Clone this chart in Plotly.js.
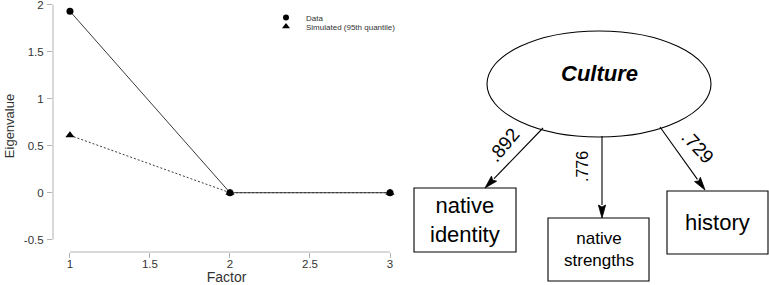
<!DOCTYPE html>
<html><head><meta charset="utf-8">
<script src="https://cdn.plot.ly/plotly-3.0.1.min.js"></script>
<style>html,body{margin:0;padding:0;background:#fff}#chart{width:769px;height:285px}</style>
</head><body><div id="chart"></div>
<script>
// ---- data ----
const factors = [1, 2, 3];
const dataEigen = [1.93, 0.0, 0.0];
const simEigen = [0.61, 0.0, 0.0];
const seriesNames = ["Data", "Simulated (95th quantile)"];
const xTicks = [1, 1.5, 2, 2.5, 3];
const yTicks = [-0.5, 0, 0.5, 1, 1.5, 2];
const latentName = "Culture";
const indicatorNames = ["native<br>identity", "native<br>strengths", "history"];
const loadings = [".892", ".776", ".729"];

// ---- geometry (pixels) ----
const W = 769, H = 285;
const PL = 53, PR = 400, PT = 0, PB = 252;   // plot area in pixels
const px = x => (x - PL) / (PR - PL);
const py = y => (PB - y) / (PB - PT);
const FONT = "Arial, 'Liberation Sans', Helvetica, sans-serif";
const AX = "#b3b3b3";

const ellipse = {x0: 487, x1: 711, y0: 31, y1: 137, labelY: 74};
const boxes = [
  {x0: 414, x1: 516, y0: 188, y1: 252, size: 22},
  {x0: 548, x1: 649, y0: 218, y1: 281, size: 17},
  {x0: 667, x1: 768, y0: 191, y1: 254, size: 22}
];
const arrows = [
  {from: [543, 128], to: [485, 188]},
  {from: [602, 136], to: [602, 218]},
  {from: [660, 127], to: [705, 190]}
];
const loadLabels = [
  {x: 503, y: 145, angle: -50, size: 19},
  {x: 582, y: 167, angle: -90, size: 16},
  {x: 697, y: 147, angle: 47, size: 19}
];

const shapes = [];
const annotations = [];

// axis lines (R-style detached axes)
shapes.push({type: "line", xref: "paper", yref: "y", x0: 0, x1: 0,
  y0: yTicks[0], y1: yTicks[yTicks.length - 1], line: {color: AX, width: 1}});
shapes.push({type: "line", xref: "x", yref: "paper", x0: xTicks[0], x1: xTicks[xTicks.length - 1],
  y0: 0, y1: 0, line: {color: AX, width: 1}});

// latent ellipse
shapes.push({type: "circle", xref: "paper", yref: "paper",
  x0: px(ellipse.x0), x1: px(ellipse.x1), y0: py(ellipse.y1), y1: py(ellipse.y0),
  line: {color: "#000", width: 1.1}, fillcolor: "rgba(0,0,0,0)"});
annotations.push({xref: "paper", yref: "paper", x: px((ellipse.x0 + ellipse.x1) / 2), y: py(ellipse.labelY),
  text: "<b><i>" + latentName + "</i></b>", showarrow: false,
  font: {family: FONT, size: 22, color: "#000"}, xanchor: "center", yanchor: "middle"});

// indicator boxes
boxes.forEach((b, i) => {
  shapes.push({type: "rect", xref: "paper", yref: "paper",
    x0: px(b.x0), x1: px(b.x1), y0: py(b.y1), y1: py(b.y0),
    line: {color: "#000", width: 1.1}, fillcolor: "rgba(0,0,0,0)"});
  annotations.push({xref: "paper", yref: "paper", x: px((b.x0 + b.x1) / 2), y: py((b.y0 + b.y1) / 2),
    text: indicatorNames[i], showarrow: false,
    font: {family: FONT, size: b.size, color: "#000"}, xanchor: "center", yanchor: "middle"});
});

// arrows
arrows.forEach(a => {
  const [x0, y0] = a.from, [x1, y1] = a.to;
  const dx = x1 - x0, dy = y1 - y0, L = Math.hypot(dx, dy);
  const ux = dx / L, uy = dy / L, nx = -uy, ny = ux;
  const hl = 13, hw = 3.6;
  const bx = x1 - ux * hl, by = y1 - uy * hl;
  shapes.push({type: "line", xref: "paper", yref: "paper",
    x0: px(x0), y0: py(y0), x1: px(bx), y1: py(by), line: {color: "#000", width: 1.1}});
  const p = (x, y) => px(x) + "," + py(y);
  shapes.push({type: "path", xref: "paper", yref: "paper",
    path: "M" + p(x1, y1) + " L" + p(bx + nx * hw, by + ny * hw) + " L" + p(x1 - ux * (hl - 2), y1 - uy * (hl - 2)) +
          " L" + p(bx - nx * hw, by - ny * hw) + " Z",
    fillcolor: "#000", line: {color: "#000", width: 0.8}});
});

// loading labels
loadLabels.forEach((l, i) => {
  annotations.push({xref: "paper", yref: "paper", x: px(l.x), y: py(l.y), text: loadings[i],
    showarrow: false, textangle: l.angle, font: {family: FONT, size: l.size, color: "#000"},
    xanchor: "center", yanchor: "middle"});
});

const traces = [
  {x: factors, y: dataEigen, mode: "lines+markers", showlegend: false, name: seriesNames[0],
   line: {color: "#3a3a3a", width: 1}, marker: {symbol: "circle", size: 7, color: "#000"}},
  {x: factors, y: simEigen, mode: "lines+markers", showlegend: false, name: seriesNames[1],
   line: {color: "#3a3a3a", width: 1, dash: "2px,2px"}, marker: {symbol: "triangle-up", size: 8, color: "#000"}},
  {x: [null], y: [null], mode: "markers", name: seriesNames[0], legend: "legend",
   marker: {symbol: "circle", size: 6, color: "#000"}},
  {x: [null], y: [null], mode: "markers", name: seriesNames[1], legend: "legend2",
   marker: {symbol: "triangle-up", size: 7, color: "#000"}}
];

const legendBase = {bgcolor: "rgba(0,0,0,0)", borderwidth: 0, font: {family: FONT, size: 8, color: "#333"},
  xanchor: "left", yanchor: "top", itemclick: false};

const layout = {
  width: W, height: H,
  margin: {l: PL, r: W - PR, t: PT, b: H - PB, pad: 0},
  paper_bgcolor: "#fff", plot_bgcolor: "#fff",
  showlegend: true,
  legend: Object.assign({}, legendBase, {x: px(266), y: py(3)}),
  legend2: Object.assign({}, legendBase, {x: px(266), y: py(12)}),
  xaxis: {range: [0.894, 3.0625], tickmode: "array", tickvals: xTicks,
    ticktext: xTicks.map(String), showgrid: false, zeroline: false, showline: false,
    ticks: "outside", ticklen: 5, tickcolor: AX, tickwidth: 1, ticklabelstandoff: -4,
    ticklabeloverflow: "allow",
    tickfont: {family: FONT, size: 11.5, color: "#333"},
    title: {text: "Factor", font: {family: FONT, size: 14, color: "#333"}, standoff: 5}},
  yaxis: {range: [-0.631, 2.05], tickmode: "array", tickvals: yTicks,
    ticktext: yTicks.map(String), showgrid: false, zeroline: false, showline: false,
    ticks: "outside", ticklen: 5, tickcolor: AX, tickwidth: 1, ticklabelstandoff: 1,
    ticklabeloverflow: "allow",
    tickfont: {family: FONT, size: 11.5, color: "#333"},
    title: {text: "Eigenvalue", font: {family: FONT, size: 13, color: "#333"}, standoff: 6}},
  shapes: shapes,
  annotations: annotations
};

Plotly.newPlot("chart", traces, layout, {staticPlot: true, displayModeBar: false});
</script>
</body></html>
